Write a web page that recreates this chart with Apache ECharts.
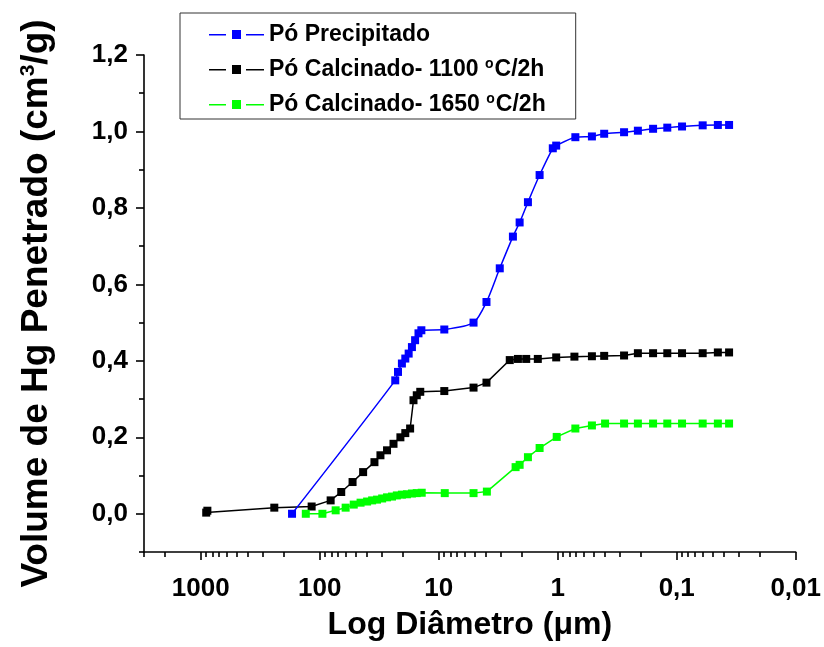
<!DOCTYPE html>
<html>
<head>
<meta charset="utf-8">
<script src="https://cdn.jsdelivr.net/npm/echarts@6/dist/echarts.min.js"></script>
<style>html,body{margin:0;padding:0;background:#fff}#c{width:824px;height:647px}</style>
</head>
<body>
<div id="c"></div>
<script>
// ---- data ----
const seriesNames = ['Pó Precipitado', 'Pó Calcinado- 1100 °C/2h', 'Pó Calcinado- 1650 °C/2h'];
const blueX = [171, 23.2, 22, 20.4, 19.1, 17.9, 16.8, 15.8, 14.8, 14.0, 8.98, 5.1, 3.97, 3.07, 2.38, 2.09, 1.78, 1.42, 1.1, 1.03, 0.711, 0.516, 0.407, 0.277, 0.212, 0.158, 0.12, 0.0902, 0.0605, 0.0451, 0.0363];
const blueY = [0.0, 0.349, 0.371, 0.393, 0.406, 0.419, 0.436, 0.454, 0.472, 0.48, 0.482, 0.5, 0.554, 0.642, 0.725, 0.762, 0.815, 0.886, 0.956, 0.963, 0.985, 0.987, 0.994, 0.998, 1.002, 1.007, 1.01, 1.013, 1.016, 1.017, 1.017];
const blackX = [900, 880, 241, 117, 81, 66, 53, 43.2, 34.7, 30.9, 27.2, 24, 21, 19.1, 17.4, 16.3, 15.3, 14.3, 8.98, 5.1, 3.97, 2.53, 2.16, 1.84, 1.47, 1.03, 0.724, 0.516, 0.407, 0.277, 0.212, 0.158, 0.12, 0.0902, 0.0605, 0.0451, 0.0363];
const blackY = [0.003, 0.008, 0.016, 0.019, 0.035, 0.057, 0.083, 0.109, 0.135, 0.153, 0.166, 0.183, 0.2, 0.211, 0.223, 0.297, 0.31, 0.319, 0.321, 0.33, 0.343, 0.402, 0.405, 0.405, 0.405, 0.409, 0.411, 0.412, 0.413, 0.414, 0.42, 0.42, 0.42, 0.42, 0.42, 0.422, 0.422];
const greenX = [131, 95, 73.5, 60.6, 51.8, 45.4, 40, 36.3, 33, 29.9, 27.2, 24.7, 22.5, 20.4, 18.5, 16.8, 15.3, 13.9, 8.9, 5.1, 3.94, 2.26, 2.09, 1.78, 1.42, 1.02, 0.711, 0.516, 0.40, 0.277, 0.212, 0.158, 0.12, 0.0902, 0.0605, 0.0451, 0.0363];
const greenY = [0.0, 0.0, 0.009, 0.016, 0.024, 0.029, 0.032, 0.035, 0.037, 0.04, 0.043, 0.045, 0.048, 0.05, 0.051, 0.053, 0.054, 0.055, 0.054, 0.054, 0.058, 0.122, 0.128, 0.148, 0.172, 0.201, 0.223, 0.231, 0.236, 0.236, 0.236, 0.236, 0.236, 0.236, 0.236, 0.236, 0.236];
const xMajorTicks = [1000, 100, 10, 1, 0.1, 0.01];
const yMajorTicks = [0, 0.2, 0.4, 0.6, 0.8, 1.0, 1.2];
const yMinorTicks = [-0.1, 0.1, 0.3, 0.5, 0.7, 0.9, 1.1];
const xMin = 0.01, xMax = 3000, yMin = -0.1, yMax = 1.2;

// minor log ticks (2..9 per decade)
const xMinorTicks = [];
for (let e = -2; e <= 3; e++) {
  for (let k = 2; k <= 9; k++) {
    const v = Number((k * Math.pow(10, e)).toPrecision(6));
    if (v <= xMax) xMinorTicks.push(v);
  }
}

const zip = (xs, ys) => xs.map((x, i) => [x, ys[i]]);
const FONT = '"Liberation Sans", Arial, sans-serif';
const fmtComma = v => String(Number(Number(v).toPrecision(6))).replace('.', ',');
// legend icon: line - square - line
const legendIcon = 'path://M0,4h17v1.4h-17z M23,0h9v9h-9z M37,4h18v1.4h-18z';

const chart = echarts.init(document.getElementById('c'), null, {renderer: 'canvas'});
const axisLineStyle = {color: '#000', width: 1.6};

const baseX = {
  type: 'log', logBase: 10, min: xMin, max: xMax, inverse: true,
  gridIndex: 0, position: 'bottom', splitLine: {show: false}
};
const baseY = {
  type: 'value', min: yMin, max: yMax, gridIndex: 0, position: 'left', splitLine: {show: false}
};

chart.setOption({
  animation: false,
  backgroundColor: '#fff',
  textStyle: {fontFamily: FONT},
  grid: {left: 144, right: 25, top: 55, bottom: 95, containLabel: false},
  legend: {
    orient: 'vertical',
    left: 180, top: 13,
    padding: [10, 30, 3, 29],
    itemGap: 11,
    itemWidth: 55, itemHeight: 9,
    borderColor: '#333', borderWidth: 1,
    data: seriesNames.map(n => ({name: n, icon: legendIcon})),
    formatter: name => name.replace(' °', ' {sup|o}'),
    textStyle: {
      fontFamily: FONT, fontWeight: 'bold', fontSize: 23, color: '#000',
      rich: {sup: {fontFamily: FONT, fontWeight: 'bold', fontSize: 14, color: '#000', padding: [0, 1, 11, 0]}}
    }
  },
  xAxis: [
    Object.assign({}, baseX, {
      name: 'Log Diâmetro (μm)', nameLocation: 'middle', nameGap: 57,
      nameTextStyle: {fontFamily: FONT, fontWeight: 'bold', fontSize: 32, color: '#000'},
      axisLine: {show: true, onZero: false, lineStyle: axisLineStyle},
      axisTick: {show: true, inside: false, length: 8, customValues: xMajorTicks, lineStyle: {color: '#000', width: 1.6}},
      axisLabel: {show: true, customValues: xMajorTicks, margin: 24, fontFamily: FONT, fontWeight: 'bold', fontSize: 26, color: '#000', formatter: fmtComma}
    }),
    Object.assign({}, baseX, {
      axisLine: {show: false, onZero: false},
      axisTick: {show: true, inside: false, length: 5, customValues: xMinorTicks, lineStyle: {color: '#000', width: 1.6}},
      axisLabel: {show: false}
    })
  ],
  yAxis: [
    Object.assign({}, baseY, {
      name: 'Volume de Hg Penetrado (cm{sup|3}/g)', nameLocation: 'middle', nameGap: 88, nameRotate: 90,
      nameTextStyle: {fontFamily: FONT, fontWeight: 'bold', fontSize: 37, color: '#000',
        rich: {sup: {fontFamily: FONT, fontWeight: 'bold', fontSize: 21, color: '#000', padding: [0, 0, 17, 0]}}},
      axisLine: {show: true, onZero: false, lineStyle: axisLineStyle},
      axisTick: {show: true, inside: false, length: 8, customValues: yMajorTicks, lineStyle: {color: '#000', width: 1.6}},
      axisLabel: {show: true, customValues: yMajorTicks, margin: 16, fontFamily: FONT, fontWeight: 'bold', fontSize: 26, color: '#000',
        formatter: v => Number(v).toFixed(1).replace('.', ',')}
    }),
    Object.assign({}, baseY, {
      axisLine: {show: false, onZero: false},
      axisTick: {show: true, inside: false, length: 5, customValues: yMinorTicks, lineStyle: {color: '#000', width: 1.6}},
      axisLabel: {show: false}
    })
  ],
  series: [
    {name: seriesNames[0], type: 'line', xAxisIndex: 0, yAxisIndex: 0, data: zip(blueX, blueY), smooth: 0.25,
      symbol: 'rect', symbolSize: 8, color: '#0000FF', lineStyle: {width: 1.5, color: '#0000FF'}, itemStyle: {color: '#0000FF'}, z: 3},
    {name: seriesNames[1], type: 'line', xAxisIndex: 0, yAxisIndex: 0, data: zip(blackX, blackY),
      symbol: 'rect', symbolSize: 8, color: '#000000', lineStyle: {width: 1.5, color: '#000000'}, itemStyle: {color: '#000000'}, z: 2},
    {name: seriesNames[2], type: 'line', xAxisIndex: 0, yAxisIndex: 0, data: zip(greenX, greenY),
      symbol: 'rect', symbolSize: 8, color: '#00FF00', lineStyle: {width: 1.5, color: '#00FF00'}, itemStyle: {color: '#00FF00'}, z: 2}
  ]
});
</script>
</body>
</html>
